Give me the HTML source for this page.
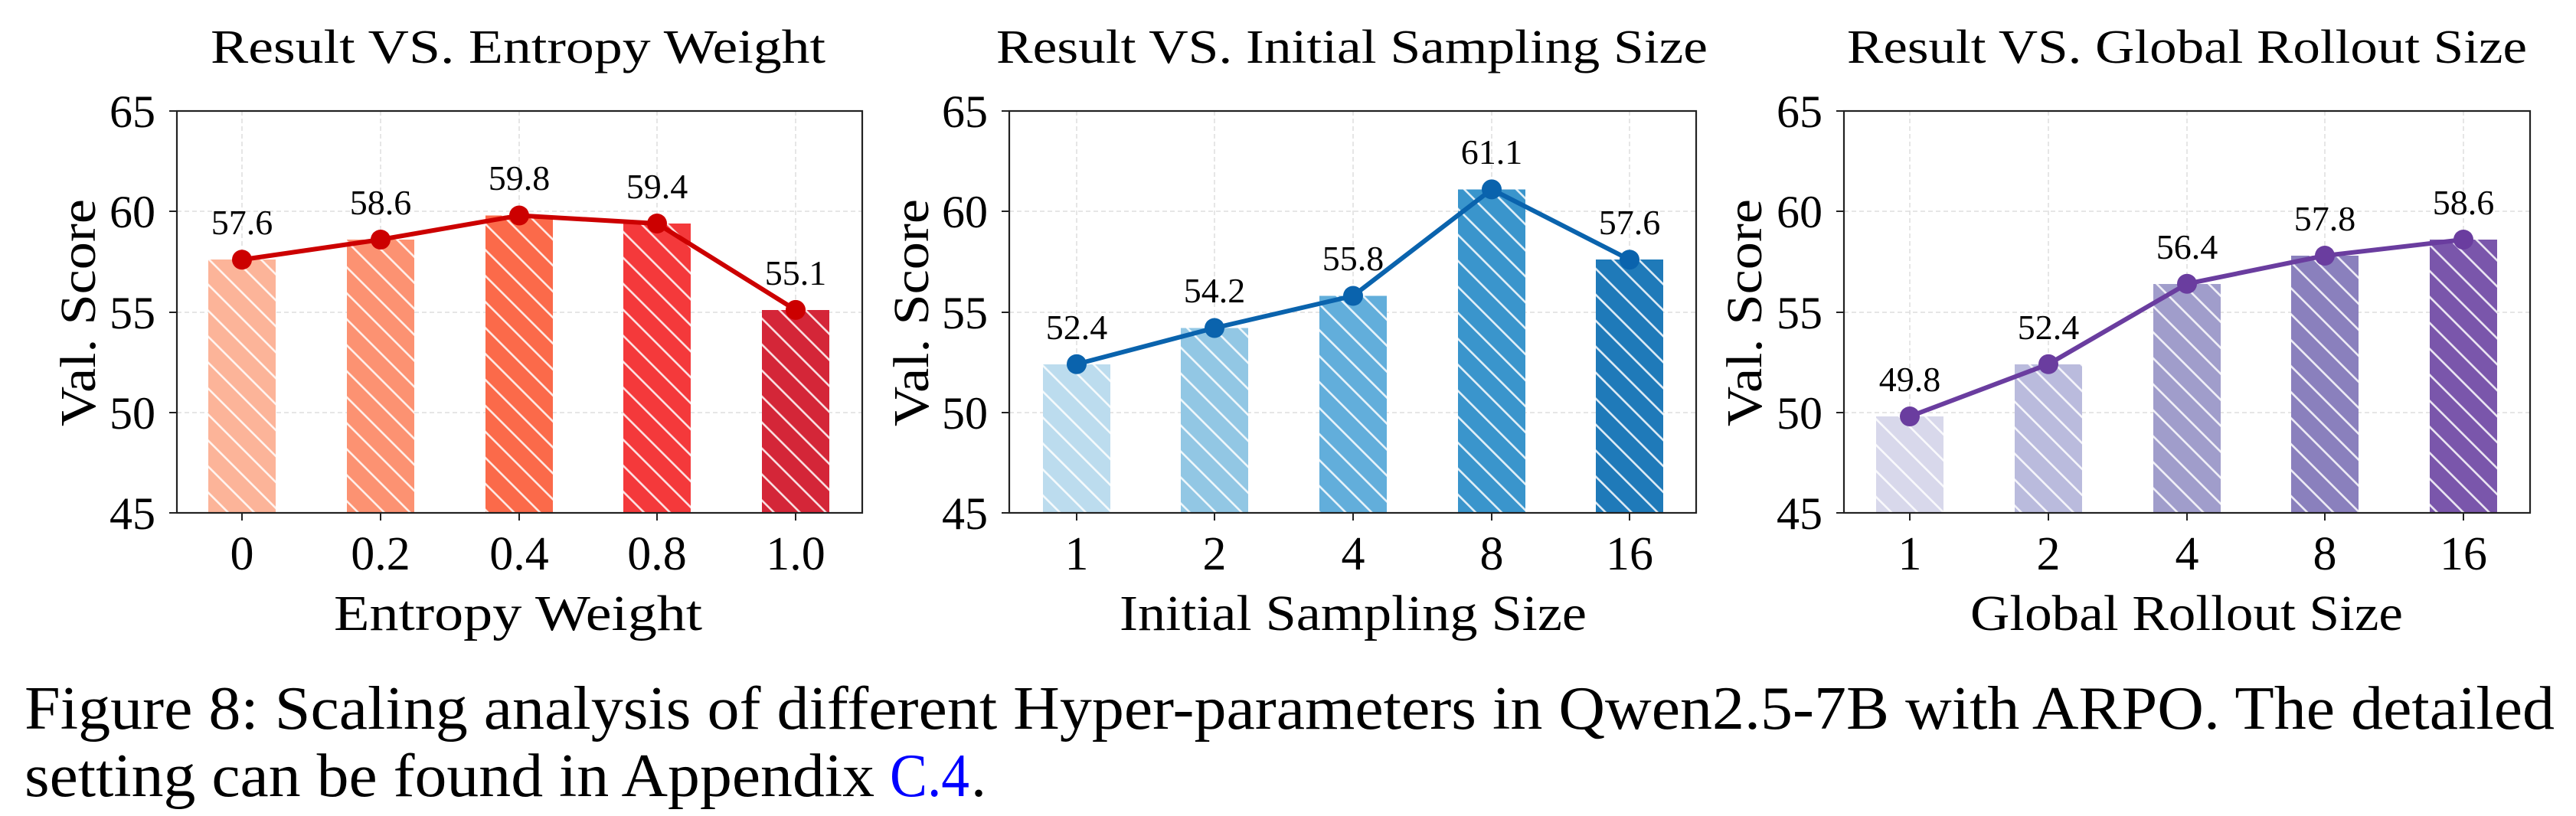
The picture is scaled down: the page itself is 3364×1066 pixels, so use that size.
<!DOCTYPE html>
<html><head><meta charset="utf-8"><style>
html,body{margin:0;padding:0;background:#fff;}
svg{display:block;}
text{font-family:"Liberation Serif",serif;fill:#000;}
</style></head><body>
<svg width="3364" height="1066" viewBox="0 0 3364 1066" xmlns="http://www.w3.org/2000/svg">
<defs>
<pattern id="h" patternUnits="userSpaceOnUse" width="24" height="24" patternTransform="rotate(-45)">
<rect x="0" y="0" width="2.6" height="24" fill="#fff" fill-opacity="0.85"/>
</pattern>
</defs>

<!-- ============ Chart 1 ============ -->
<g>
<g stroke="#ddd" stroke-width="1.5" stroke-dasharray="6,4">
<line x1="231" x2="1126" y1="276" y2="276"/><line x1="231" x2="1126" y1="408" y2="408"/><line x1="231" x2="1126" y1="539" y2="539"/>
<line x1="316" x2="316" y1="145" y2="670"/><line x1="497" x2="497" y1="145" y2="670"/><line x1="678" x2="678" y1="145" y2="670"/><line x1="858" x2="858" y1="145" y2="670"/><line x1="1039" x2="1039" y1="145" y2="670"/>
</g>
<rect x="272" y="339" width="88" height="331" fill="#fcb499"/><rect x="272" y="339" width="88" height="331" fill="url(#h)"/>
<rect x="453" y="313" width="88" height="357" fill="#fc9272"/><rect x="453" y="313" width="88" height="357" fill="url(#h)"/>
<rect x="634" y="281.5" width="88" height="388.5" fill="#fb6a4a"/><rect x="634" y="281.5" width="88" height="388.5" fill="url(#h)"/>
<rect x="814" y="292" width="88" height="378" fill="#f4393b"/><rect x="814" y="292" width="88" height="378" fill="url(#h)"/>
<rect x="995" y="405" width="88" height="265" fill="#d42638"/><rect x="995" y="405" width="88" height="265" fill="url(#h)"/>
<polyline points="316,339.25 497,313 678,281.5 858,292 1039,404.9" fill="none" stroke="#cc0000" stroke-width="6"/>
<g fill="#cc0000"><circle cx="316" cy="339.25" r="13"/><circle cx="497" cy="313" r="13"/><circle cx="678" cy="281.5" r="13"/><circle cx="858" cy="292" r="13"/><circle cx="1039" cy="404.9" r="13"/></g>
<g font-size="46" text-anchor="middle">
<text x="316" y="306">57.6</text><text x="497" y="280">58.6</text><text x="678" y="248">59.8</text><text x="858" y="259">59.4</text><text x="1039" y="372">55.1</text>
</g>
<rect x="231" y="145" width="895" height="525" fill="none" stroke="#222" stroke-width="2.2"/>
<g stroke="#222" stroke-width="2"><line x1="221" x2="231" y1="145" y2="145"/><line x1="221" x2="231" y1="276" y2="276"/><line x1="221" x2="231" y1="408" y2="408"/><line x1="221" x2="231" y1="539" y2="539"/><line x1="221" x2="231" y1="670" y2="670"/>
<line x1="316" x2="316" y1="670" y2="680"/><line x1="497" x2="497" y1="670" y2="680"/><line x1="678" x2="678" y1="670" y2="680"/><line x1="858" x2="858" y1="670" y2="680"/><line x1="1039" x2="1039" y1="670" y2="680"/></g>
<g font-size="60" text-anchor="end"><text x="203" y="166">65</text><text x="203" y="297">60</text><text x="203" y="429">55</text><text x="203" y="560">50</text><text x="203" y="691">45</text></g>
<g font-size="62" text-anchor="middle"><text x="316" y="744">0</text><text x="497" y="744">0.2</text><text x="678" y="744">0.4</text><text x="858" y="744">0.8</text><text x="1039" y="744">1.0</text></g>
<text x="436" y="823" font-size="66" textLength="481" lengthAdjust="spacingAndGlyphs">Entropy Weight</text>
<text x="275" y="82" font-size="62" textLength="803" lengthAdjust="spacingAndGlyphs">Result VS. Entropy Weight</text>
<text transform="translate(124,557) rotate(-90)" font-size="66" textLength="297" lengthAdjust="spacingAndGlyphs">Val. Score</text>
</g>

<!-- ============ Chart 2 ============ -->
<g>
<g stroke="#ddd" stroke-width="1.5" stroke-dasharray="6,4">
<line x1="1318" x2="2215" y1="276" y2="276"/><line x1="1318" x2="2215" y1="408" y2="408"/><line x1="1318" x2="2215" y1="539" y2="539"/>
<line x1="1406" x2="1406" y1="145" y2="670"/><line x1="1586" x2="1586" y1="145" y2="670"/><line x1="1767" x2="1767" y1="145" y2="670"/><line x1="1948" x2="1948" y1="145" y2="670"/><line x1="2128" x2="2128" y1="145" y2="670"/>
</g>
<rect x="1362" y="476" width="88" height="194" fill="#bcdcee"/><rect x="1362" y="476" width="88" height="194" fill="url(#h)"/>
<rect x="1542" y="428.5" width="88" height="241.5" fill="#92c7e4"/><rect x="1542" y="428.5" width="88" height="241.5" fill="url(#h)"/>
<rect x="1723" y="386.5" width="88" height="283.5" fill="#62aedb"/><rect x="1723" y="386.5" width="88" height="283.5" fill="url(#h)"/>
<rect x="1904" y="247.5" width="88" height="422.5" fill="#3a95cc"/><rect x="1904" y="247.5" width="88" height="422.5" fill="url(#h)"/>
<rect x="2084" y="339" width="88" height="331" fill="#1f7ab9"/><rect x="2084" y="339" width="88" height="331" fill="url(#h)"/>
<polyline points="1406,475.75 1586,428.5 1767,386.5 1948,247.4 2128,339.25" fill="none" stroke="#0a63ad" stroke-width="6"/>
<g fill="#0a63ad"><circle cx="1406" cy="475.75" r="13"/><circle cx="1586" cy="428.5" r="13"/><circle cx="1767" cy="386.5" r="13"/><circle cx="1948" cy="247.4" r="13"/><circle cx="2128" cy="339.25" r="13"/></g>
<g font-size="46" text-anchor="middle">
<text x="1406" y="443">52.4</text><text x="1586" y="395">54.2</text><text x="1767" y="353">55.8</text><text x="1948" y="214">61.1</text><text x="2128" y="306">57.6</text>
</g>
<rect x="1318" y="145" width="897" height="525" fill="none" stroke="#222" stroke-width="2.2"/>
<g stroke="#222" stroke-width="2"><line x1="1308" x2="1318" y1="145" y2="145"/><line x1="1308" x2="1318" y1="276" y2="276"/><line x1="1308" x2="1318" y1="408" y2="408"/><line x1="1308" x2="1318" y1="539" y2="539"/><line x1="1308" x2="1318" y1="670" y2="670"/>
<line x1="1406" x2="1406" y1="670" y2="680"/><line x1="1586" x2="1586" y1="670" y2="680"/><line x1="1767" x2="1767" y1="670" y2="680"/><line x1="1948" x2="1948" y1="670" y2="680"/><line x1="2128" x2="2128" y1="670" y2="680"/></g>
<g font-size="60" text-anchor="end"><text x="1290" y="166">65</text><text x="1290" y="297">60</text><text x="1290" y="429">55</text><text x="1290" y="560">50</text><text x="1290" y="691">45</text></g>
<g font-size="62" text-anchor="middle"><text x="1406" y="744">1</text><text x="1586" y="744">2</text><text x="1767" y="744">4</text><text x="1948" y="744">8</text><text x="2128" y="744">16</text></g>
<text x="1462" y="823" font-size="66" textLength="610" lengthAdjust="spacingAndGlyphs">Initial Sampling Size</text>
<text x="1301" y="82" font-size="62" textLength="929" lengthAdjust="spacingAndGlyphs">Result VS. Initial Sampling Size</text>
<text transform="translate(1212,557) rotate(-90)" font-size="66" textLength="297" lengthAdjust="spacingAndGlyphs">Val. Score</text>
</g>

<!-- ============ Chart 3 ============ -->
<g>
<g stroke="#ddd" stroke-width="1.5" stroke-dasharray="6,4">
<line x1="2408" x2="3304" y1="276" y2="276"/><line x1="2408" x2="3304" y1="408" y2="408"/><line x1="2408" x2="3304" y1="539" y2="539"/>
<line x1="2494" x2="2494" y1="145" y2="670"/><line x1="2675" x2="2675" y1="145" y2="670"/><line x1="2856" x2="2856" y1="145" y2="670"/><line x1="3036" x2="3036" y1="145" y2="670"/><line x1="3217" x2="3217" y1="145" y2="670"/>
</g>
<rect x="2450" y="544" width="88" height="126" fill="#d8d8eb"/><rect x="2450" y="544" width="88" height="126" fill="url(#h)"/>
<rect x="2631" y="476" width="88" height="194" fill="#babbdd"/><rect x="2631" y="476" width="88" height="194" fill="url(#h)"/>
<rect x="2812" y="371" width="88" height="299" fill="#a09dcb"/><rect x="2812" y="371" width="88" height="299" fill="url(#h)"/>
<rect x="2992" y="334" width="88" height="336" fill="#8a80bd"/><rect x="2992" y="334" width="88" height="336" fill="url(#h)"/>
<rect x="3173" y="313" width="88" height="357" fill="#7a56ab"/><rect x="3173" y="313" width="88" height="357" fill="url(#h)"/>
<polyline points="2494,544 2675,475.75 2856,370.75 3036,334 3217,313" fill="none" stroke="#6a3d9f" stroke-width="6"/>
<g fill="#6a3d9f"><circle cx="2494" cy="544" r="13"/><circle cx="2675" cy="475.75" r="13"/><circle cx="2856" cy="370.75" r="13"/><circle cx="3036" cy="334" r="13"/><circle cx="3217" cy="313" r="13"/></g>
<g font-size="46" text-anchor="middle">
<text x="2494" y="511">49.8</text><text x="2675" y="443">52.4</text><text x="2856" y="338">56.4</text><text x="3036" y="301">57.8</text><text x="3217" y="280">58.6</text>
</g>
<rect x="2408" y="145" width="896" height="525" fill="none" stroke="#222" stroke-width="2.2"/>
<g stroke="#222" stroke-width="2"><line x1="2398" x2="2408" y1="145" y2="145"/><line x1="2398" x2="2408" y1="276" y2="276"/><line x1="2398" x2="2408" y1="408" y2="408"/><line x1="2398" x2="2408" y1="539" y2="539"/><line x1="2398" x2="2408" y1="670" y2="670"/>
<line x1="2494" x2="2494" y1="670" y2="680"/><line x1="2675" x2="2675" y1="670" y2="680"/><line x1="2856" x2="2856" y1="670" y2="680"/><line x1="3036" x2="3036" y1="670" y2="680"/><line x1="3217" x2="3217" y1="670" y2="680"/></g>
<g font-size="60" text-anchor="end"><text x="2380" y="166">65</text><text x="2380" y="297">60</text><text x="2380" y="429">55</text><text x="2380" y="560">50</text><text x="2380" y="691">45</text></g>
<g font-size="62" text-anchor="middle"><text x="2494" y="744">1</text><text x="2675" y="744">2</text><text x="2856" y="744">4</text><text x="3036" y="744">8</text><text x="3217" y="744">16</text></g>
<text x="2573" y="823" font-size="66" textLength="565" lengthAdjust="spacingAndGlyphs">Global Rollout Size</text>
<text x="2412" y="82" font-size="62" textLength="888" lengthAdjust="spacingAndGlyphs">Result VS. Global Rollout Size</text>
<text transform="translate(2300,557) rotate(-90)" font-size="66" textLength="297" lengthAdjust="spacingAndGlyphs">Val. Score</text>
</g>

<!-- caption -->
<text x="32" y="952" font-size="80" textLength="3304" lengthAdjust="spacingAndGlyphs">Figure 8: Scaling analysis of different Hyper-parameters in Qwen2.5-7B with ARPO. The detailed</text>
<text x="32" y="1040" font-size="80" textLength="1110" lengthAdjust="spacingAndGlyphs">setting can be found in Appendix</text>
<text x="1162" y="1040" font-size="80" fill="#0000ff" style="fill:#0000ff" textLength="104" lengthAdjust="spacingAndGlyphs">C.4</text>
<text x="1268" y="1040" font-size="80">.</text>
</svg>
</body></html>
